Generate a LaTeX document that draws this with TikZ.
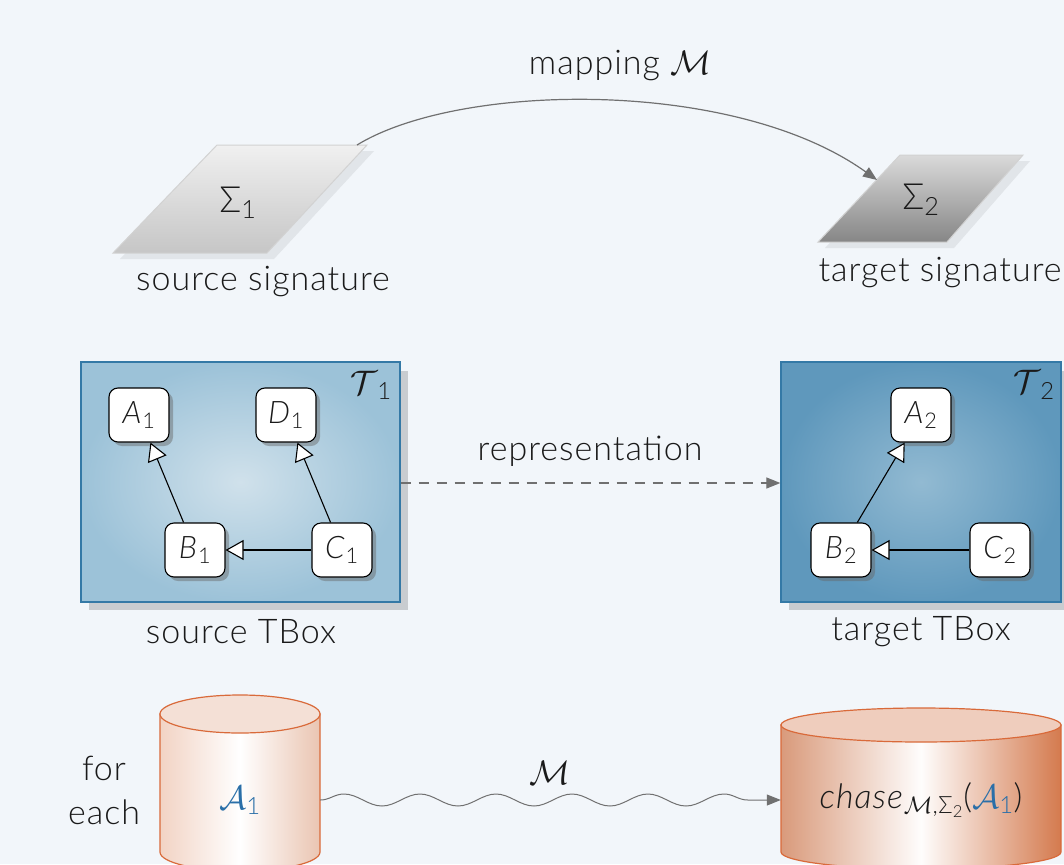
\documentclass[tikz,border=0pt]{standalone}
\usepackage{fix-cm}
\usepackage{fontspec}
\setmainfont{Lato Light}[ItalicFont={Lato Light Italic}, LetterSpace=3]
\usetikzlibrary{arrows.meta,shadows,decorations.pathmorphing}
\definecolor{bg}{HTML}{F2F6FA}
\definecolor{ink}{HTML}{1A1A1A}
\definecolor{arrowgray}{HTML}{707070}
\definecolor{paraAtop}{HTML}{F0F0F0}
\definecolor{paraAbot}{HTML}{C6C6C6}
\definecolor{paraBtop}{HTML}{DADADA}
\definecolor{paraBbot}{HTML}{868686}
\definecolor{paraedge}{HTML}{D2D2D2}
\definecolor{parashadow}{HTML}{E1E5E9}
\definecolor{tbAin}{HTML}{D0E1EB}
\definecolor{tbAout}{HTML}{9CC2D8}
\definecolor{tbBin}{HTML}{92BAD2}
\definecolor{tbBout}{HTML}{5F98BC}
\definecolor{tbedge}{HTML}{3479A6}
\definecolor{boxshadow}{HTML}{C8CCD0}
\definecolor{cylAleft}{HTML}{F2D3C4}
\definecolor{cylAright}{HTML}{EAC5B2}
\definecolor{cylAtop}{HTML}{F4E0D6}
\definecolor{cylBleft}{HTML}{D99A7B}
\definecolor{cylBright}{HTML}{D47A4E}
\definecolor{cylBtop}{HTML}{EFCDBD}
\definecolor{cyledge}{HTML}{D96A3A}
\definecolor{mathblue}{HTML}{2A6FA8}
\newcommand{\bigcal}[1]{$\mathcal{#1}$}
\begin{document}
\begin{tikzpicture}[x=1pt,y=-1pt,
  font=\fontsize{34}{38}\selectfont, text=ink,
  lbl/.style={inner sep=0pt, anchor=center},
  concept/.style={draw=black, line width=1.1pt, fill=white, rounded corners=9pt,
    minimum width=60pt, minimum height=54pt, inner sep=0pt,
    font=\fontsize{31}{34}\selectfont,
    drop shadow={shadow xshift=4pt, shadow yshift=-4pt, opacity=0.45, fill=black!60}},
  isa/.style={line width=1.1pt, -{Triangle[fill=white, length=18pt, width=20pt, line width=1.1pt]}},
  tbox/.style={draw=tbedge, line width=1.3pt, inner sep=0pt},
  boxshade/.style={fill=boxshadow},
  cylA/.style={left color=cylAleft, right color=cylAright, middle color=white},
  cylB/.style={left color=cylBleft, right color=cylBright, middle color=white!96!cylBtop},
]
% background and bounding box
\fill[bg] (0,0) rectangle (1064,864);
\useasboundingbox (0,0) rectangle (1064,864);
\clip (0,0) rectangle (1064,864);

% ---------- signatures ----------
\fill[parashadow] (224,151) -- (374,151) -- (274,259) -- (120,259) -- cycle;
\shade[top color=paraAtop, bottom color=paraAbot, draw=paraedge, line width=1pt]
  (217,145) -- (367,145) -- (267,253) -- (113,253) -- cycle;
\coordinate (s1tr) at (357,145);
\node[lbl, font=\fontsize{36}{38}\selectfont] (sig1) at (238,203) {Σ\textsubscript{1}};
\node[lbl] (sig1lbl) at (263,282) {source signature};

\fill[parashadow] (907,161) -- (1030,161) -- (954,248) -- (825,248) -- cycle;
\shade[top color=paraBtop, bottom color=paraBbot, draw=paraedge, line width=1pt]
  (900,155) -- (1023,155) -- (947,242) -- (818,242) -- cycle;
\coordinate (s2tl) at (877,180);
\node[lbl, font=\fontsize{36}{38}\selectfont] (sig2) at (921,200) {Σ\textsubscript{2}};
\node[lbl] (sig2lbl) at (940,273) {target signature};

\draw[arrowgray, line width=1.2pt, -{Triangle[length=14pt, width=11pt]}]
  (s1tr) .. controls (460,82) and (735,78) .. (s2tl);
\node[lbl] (maplbl) at (620,66) {mapping \bigcal{M}};

% ---------- TBoxes ----------
\fill[boxshade] (89,371) rectangle (408,610);
\node[tbox, shade, inner color=tbAin, outer color=tbAout,
  minimum width=319pt, minimum height=240pt] (tb1) at (240.5,482) {};
\node[lbl] (t1) at (371,385) {\bigcal{T}\textsubscript{1}};
\node[concept] (a1) at (139,415) {\textit{A}\textsubscript{1}};
\node[concept] (d1) at (286,415) {\textit{D}\textsubscript{1}};
\node[concept] (b1) at (195,550) {\textit{B}\textsubscript{1}};
\node[concept] (c1) at (342,550) {\textit{C}\textsubscript{1}};
\draw[isa] (b1) -- (a1);
\draw[isa] (c1) -- (d1);
\draw[isa] (c1) -- (b1);
\node[lbl] (tb1lbl) at (241,632) {source TBox};

\fill[boxshade] (789,371) rectangle (1069,610);
\node[tbox, shade, inner color=tbBin, outer color=tbBout,
  minimum width=280pt, minimum height=240pt] (tb2) at (921,482) {};
\node[lbl] (t2) at (1034,385) {\bigcal{T}\textsubscript{2}};
\node[concept] (a2) at (921,415) {\textit{A}\textsubscript{2}};
\node[concept] (b2) at (841,550) {\textit{B}\textsubscript{2}};
\node[concept] (c2) at (1000,550) {\textit{C}\textsubscript{2}};
\draw[isa] (b2) -- (a2);
\draw[isa] (c2) -- (b2);
\node[lbl] (tb2lbl) at (921,632) {target TBox};

\draw[arrowgray, line width=1.2pt, dash pattern=on 10pt off 8pt, -{Triangle[length=14pt, width=11pt]}]
  (tb1.east |- 0,483) -- (tb2.west |- 0,483);
\node[lbl] (replbl) at (590,451) {representation};

% ---------- ABoxes ----------
\shade[cylA, draw=cyledge, line width=1.2pt]
  (160,714) -- (160,852) arc[start angle=180, end angle=0, x radius=80, y radius=19] -- (320,714) -- cycle;
\draw[cyledge, line width=1.2pt, fill=cylAtop] (240,714) ellipse[x radius=80, y radius=19];
\node[minimum width=160pt, minimum height=60pt, inner sep=0pt] (abox) at (240,800)
  {\color{mathblue}\bigcal{A}\textsubscript{1}};
\node[lbl, align=center, font=\fontsize{34}{44}\selectfont] (foreach) at (104,790) {for\\each};

\shade[cylB, draw=cyledge, line width=1.2pt]
  (781,725) -- (781,852) arc[start angle=180, end angle=0, x radius=140, y radius=17] -- (1061,725) -- cycle;
\draw[cyledge, line width=1.2pt, fill=cylBtop] (921,725) ellipse[x radius=140, y radius=17];
\node[minimum width=280pt, minimum height=60pt, inner sep=0pt] (chase) at (921,800)
  {\textit{chase}\textsubscript{$\mathcal{M}$,Σ\textsubscript{2}}({\color{mathblue}\bigcal{A}\textsubscript{1}})};

\draw[arrowgray, line width=1pt, -{Triangle[length=14pt, width=11pt]},
  decorate, decoration={snake, amplitude=6pt, segment length=76pt, post length=14pt}]
  (abox.east) -- (chase.west);
\node[lbl] (mlbl) at (550,773) {\bigcal{M}};
\end{tikzpicture}
\end{document}
